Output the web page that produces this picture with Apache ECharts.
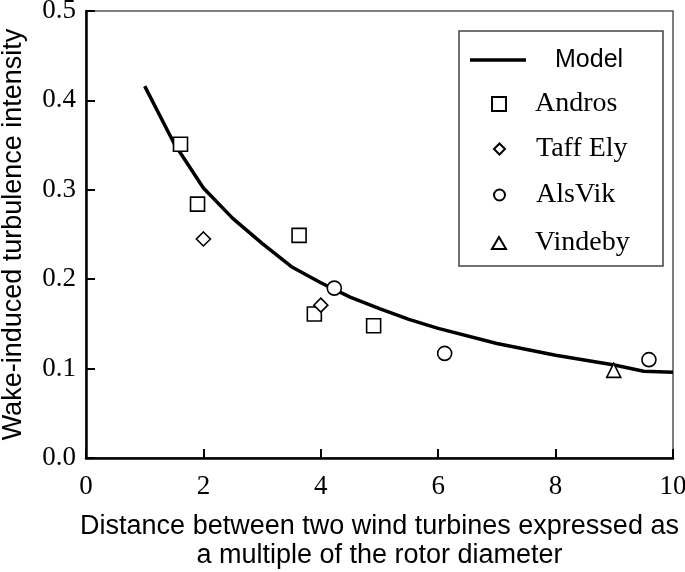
<!DOCTYPE html>
<html>
<head>
<meta charset="utf-8">
<script src="https://cdn.jsdelivr.net/npm/echarts@6/dist/echarts.min.js"></script>
<style>html,body{margin:0;padding:0;background:#fff}#c{width:685px;height:572px}</style>
</head>
<body>
<div id="c"></div>
<script>
// Model curve
const modelX = [1.0, 1.5, 2.0, 2.5, 3.0, 3.5, 4.0, 4.5, 5.0, 5.5, 6.0, 7.0, 8.0, 9.0, 9.5, 10.0];
const modelY = [0.416, 0.352, 0.302, 0.268, 0.240, 0.214, 0.196, 0.180, 0.167, 0.155, 0.145, 0.128, 0.115, 0.104, 0.097, 0.096];
// Measurements
const androsX = [1.61, 1.90, 3.63, 3.89, 4.90];
const androsY = [0.351, 0.284, 0.249, 0.161, 0.148];
const taffX = [2.00, 4.00];
const taffY = [0.245, 0.171];
const alsvikX = [4.23, 6.11, 9.59];
const alsvikY = [0.190, 0.117, 0.110];
const vindebyX = [8.99];
const vindebyY = [0.098];
// Axis ticks
const xTicks = [0, 2, 4, 6, 8, 10];
const yTicks = [0.0, 0.1, 0.2, 0.3, 0.4, 0.5];
const xTitle = 'Distance between two wind turbines expressed as\na multiple of the rotor diameter';
const yTitle = 'Wake-induced turbulence intensity';

const zip = (xs, ys) => xs.map((x, i) => [x, ys[i]]);
const serif = 'Liberation Serif';
const sans = 'Liberation Sans';

const mk = (name, symbol, size, xs, ys) => ({
  name, type: 'scatter', symbol, symbolSize: size, data: zip(xs, ys),
  itemStyle: { color: '#fff', borderColor: '#000', borderWidth: 1.6, opacity: 1 },
  z: 3
});

const legendBase = (item, left, cy, w, h, pad, font, size) => ({
  data: [item], orient: 'vertical', left: left, top: cy - 15, padding: 0,
  itemWidth: w, itemHeight: h, selectedMode: false,
  textStyle: { fontFamily: font, fontSize: size, color: '#000', lineHeight: 30, padding: [0, 0, 0, pad] }
});

const chart = echarts.init(document.getElementById('c'), null, { renderer: 'canvas' });
chart.setOption({
  animation: false,
  backgroundColor: '#fff',
  grid: { left: 86, top: 11, right: 12, bottom: 114, outerBoundsMode: 'none', containLabel: false,
    show: true, borderColor: '#555', borderWidth: 1.5 },
  xAxis: {
    type: 'value', min: xTicks[0], max: xTicks[xTicks.length - 1], interval: 2,
    axisLine: { lineStyle: { color: '#000', width: 2.5 } },
    axisTick: { inside: true, length: 9, lineStyle: { color: '#000', width: 2 } },
    axisLabel: { fontFamily: serif, fontSize: 27, color: '#000', margin: 15 },
    splitLine: { show: false },
    name: xTitle, nameLocation: 'middle', nameGap: 54,
    nameTextStyle: { fontFamily: sans, fontSize: 27, color: '#000', lineHeight: 29 }
  },
  yAxis: {
    type: 'value', min: yTicks[0], max: yTicks[yTicks.length - 1], interval: 0.1,
    axisLine: { lineStyle: { color: '#000', width: 2.5 } },
    axisTick: { inside: true, length: 9, lineStyle: { color: '#000', width: 2 } },
    axisLabel: { fontFamily: serif, fontSize: 27, color: '#000', margin: 10, formatter: v => v.toFixed(1) },
    splitLine: { show: false },
    name: yTitle, nameLocation: 'middle', nameGap: 59,
    nameTextStyle: { fontFamily: sans, fontSize: 27, color: '#000' }
  },
  legend: [
    legendBase({ name: 'Model', icon: 'rect' }, 470, 60, 56, 3.5, 24, sans, 25),
    legendBase('Andros', 491, 104, 14, 14, 24, serif, 28),
    legendBase('Taff Ely', 493, 149, 11, 11, 26, serif, 28),
    legendBase('AlsVik', 493, 195, 11, 11, 26, serif, 28),
    legendBase('Vindeby', 491, 243, 14, 12, 24, serif, 28)
  ],
  graphic: [{
    type: 'rect', shape: { x: 459, y: 31, width: 204, height: 235 },
    style: { fill: 'none', stroke: '#444', lineWidth: 1.5 }, z: 1
  }],
  series: [
    { name: 'Model', type: 'line', data: zip(modelX, modelY), showSymbol: false, symbol: 'none',
      lineStyle: { color: '#000', width: 3.5 }, itemStyle: { color: '#000' }, z: 2 },
    mk('Andros', 'rect', 14, androsX, androsY),
    mk('Taff Ely', 'diamond', 14, taffX, taffY),
    mk('AlsVik', 'circle', 14, alsvikX, alsvikY),
    mk('Vindeby', 'triangle', 14, vindebyX, vindebyY)
  ]
});
</script>
</body>
</html>
